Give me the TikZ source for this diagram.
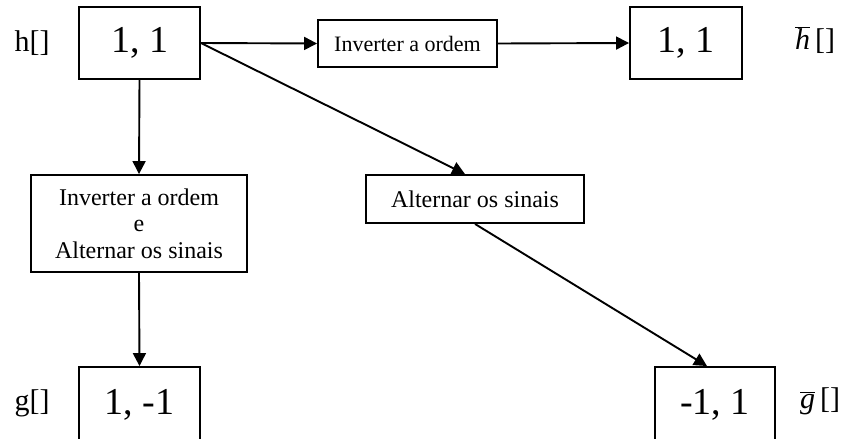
\documentclass[tikz,border=0pt]{standalone}
\usepackage{fontspec}
\setmainfont{Liberation Serif}
\usepackage{tikz}
\usetikzlibrary{arrows.meta}

\begin{document}
\begin{tikzpicture}[x=1pt,y=1pt,line width=1.9pt,
	seq/.style={shape=rectangle,draw=black,minimum width=121pt,minimum height=72pt,inner sep=0pt,font=\fontsize{38}{40}\selectfont},
	op/.style={shape=rectangle,draw=black,align=center,inner sep=0pt,font=\fontsize{24}{26.5}\selectfont},
	lbl/.style={font=\fontsize{30}{32}\selectfont},
	tip/.style={-{Triangle[length=13pt,width=13pt]}}]
	
	\useasboundingbox (0,0) rectangle (863,-439);
	
	\node[seq] (h)    at (139.5, -43)  {1, 1};
	\node[op,minimum width=179pt,minimum height=47pt,font=\fontsize{22}{24}\selectfont] (inv) at (407.5, -43.5) {Inverter a ordem};
	\node[seq,minimum width=112pt] (hbar) at (686, -43) {1, 1};
	\node[op,minimum width=216pt,minimum height=97pt] (both) at (139, -223.5) {Inverter a ordem\\e\\Alternar os sinais};
	\node[op,minimum width=218pt,minimum height=48pt] (alt)  at (475, -199)  {Alternar os sinais};
	\node[seq,minimum height=76pt] (g)    at (139.5, -405) {1, -1};
	\node[seq,minimum width=120pt,minimum height=76pt] (gbar) at (715, -405) {-1, 1};
	
	\node[lbl] (hlab)    at (32, -43)  {h[]};
	\node[lbl] (glab)    at (32, -403) {g[]};
	\node[lbl] (hbarlab) at (815, -40) {$\overline{\mbox{\itshape h}}$\,[]};
	\node[lbl] (gbarlab) at (820, -401) {$\overline{\mbox{\itshape g}}$\,[]};
	
	\path[tip] (h.east)    edge (inv.west);
	\path[tip] (inv.east)  edge (hbar.west);
	\path[tip] (h.south)   edge (both.north);
	\path[tip] (both.south) edge (g.north);
	\path[tip] (h.east)    edge ([xshift=-10pt]alt.north);
	\path[tip] (alt.south) edge ([xshift=-8pt]gbar.north);
	
\end{tikzpicture}
\end{document}
